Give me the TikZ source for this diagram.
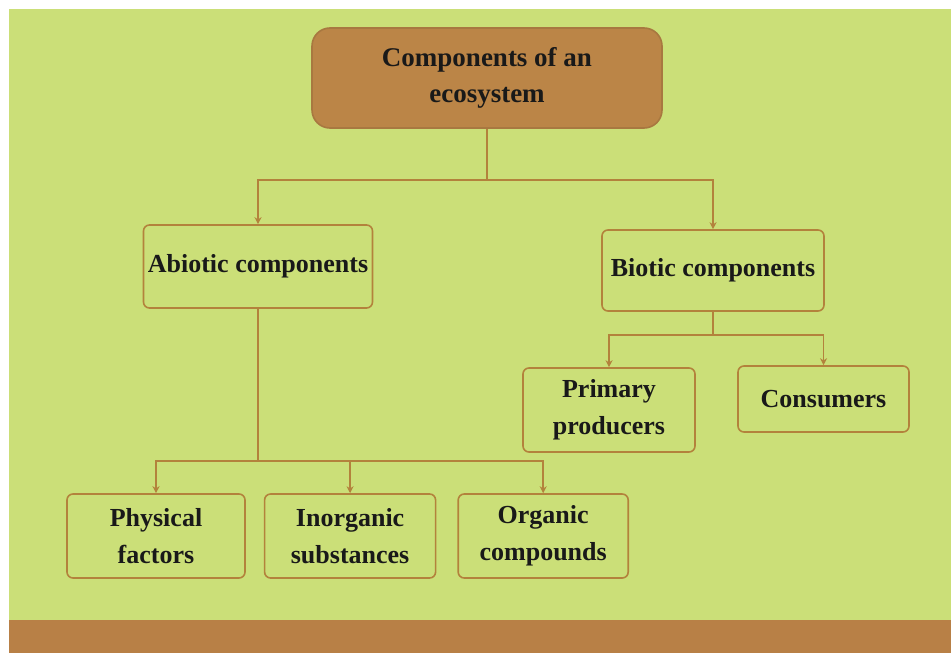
\documentclass[tikz,border=0pt]{standalone}
\usepackage{fontspec}
\setmainfont{Liberation Serif}
\usetikzlibrary{positioning,arrows.meta}
\definecolor{leafgreen}{HTML}{CBDF78}
\definecolor{soilbrown}{HTML}{B88046}
\definecolor{barkbrown}{HTML}{BB8547}
\definecolor{twigline}{HTML}{B3823C}

\begin{document}
\begin{tikzpicture}[x=0.5pt, y=-0.5pt,
rootnode/.style={rectangle, rounded corners=9pt, draw=barkbrown!90!black, fill=barkbrown, thick, minimum width=175pt, minimum height=50pt, inner sep=0pt, align=center, text=black!90, font=\fontsize{13.5}{18}\selectfont\bfseries},
squarednode/.style={rectangle, rounded corners=3pt, draw=twigline, fill=leafgreen, thick, inner sep=0pt, align=center, text=black!90, font=\fontsize{13}{18.5}\selectfont\bfseries},
link/.style={twigline, thick},
linkarrow/.style={link, -{Stealth[length=3.5pt, width=3.5pt]}},
]
%Background
\useasboundingbox (0,0) rectangle (951,653);
\fill[white] (0,0) rectangle (951,653);
\fill[leafgreen] (9,9) rectangle (951,620);
\fill[soilbrown] (9,620) rectangle (951,653);

%Nodes
\node[rootnode]                                   (eco)      at (487,78)    {Components of an\\ecosystem};
\node[squarednode, minimum width=114.5pt, minimum height=41.5pt] (abiotic)  at (258,266.5)   {Abiotic components};
\node[squarednode, minimum width=111pt, minimum height=40.5pt]   (biotic)   at (713,270.5)   {Biotic components};
\node[squarednode, minimum width=86pt, minimum height=42pt]      (primary)  at (609,410)     {Primary\\producers};
\node[squarednode, minimum width=85.5pt, minimum height=33pt]    (consum)   at (823.5,399)   {Consumers};
\node[squarednode, minimum width=89pt, minimum height=42pt]      (physical) at (156,536)     {Physical\\factors};
\node[squarednode, minimum width=85.5pt, minimum height=42pt]    (inorganic) [right=9pt of physical]  {Inorganic\\substances};
\node[squarednode, minimum width=85pt, minimum height=42pt]      (organic)   [right=10.5pt of inorganic] {Organic\\compounds};

%Lines
\coordinate (ecobus)     at (487,180);
\coordinate (abioticbus) at (258,461);
\coordinate (bioticbus)  at (713,335);
\draw[link] (eco.south) -- (ecobus);
\draw[linkarrow] (ecobus) -| (abiotic.north);
\draw[linkarrow] (ecobus) -| (biotic.north);
\draw[link] (biotic.south) -- (bioticbus);
\draw[linkarrow] (bioticbus) -| (primary.north);
\draw[linkarrow] (bioticbus) -| (consum.north);
\draw[link] (abiotic.south) -- (abioticbus);
\draw[linkarrow] (abioticbus) -| (physical.north);
\draw[linkarrow] (abioticbus) -| (inorganic.north);
\draw[linkarrow] (abioticbus) -| (organic.north);

\end{tikzpicture}
\end{document}
